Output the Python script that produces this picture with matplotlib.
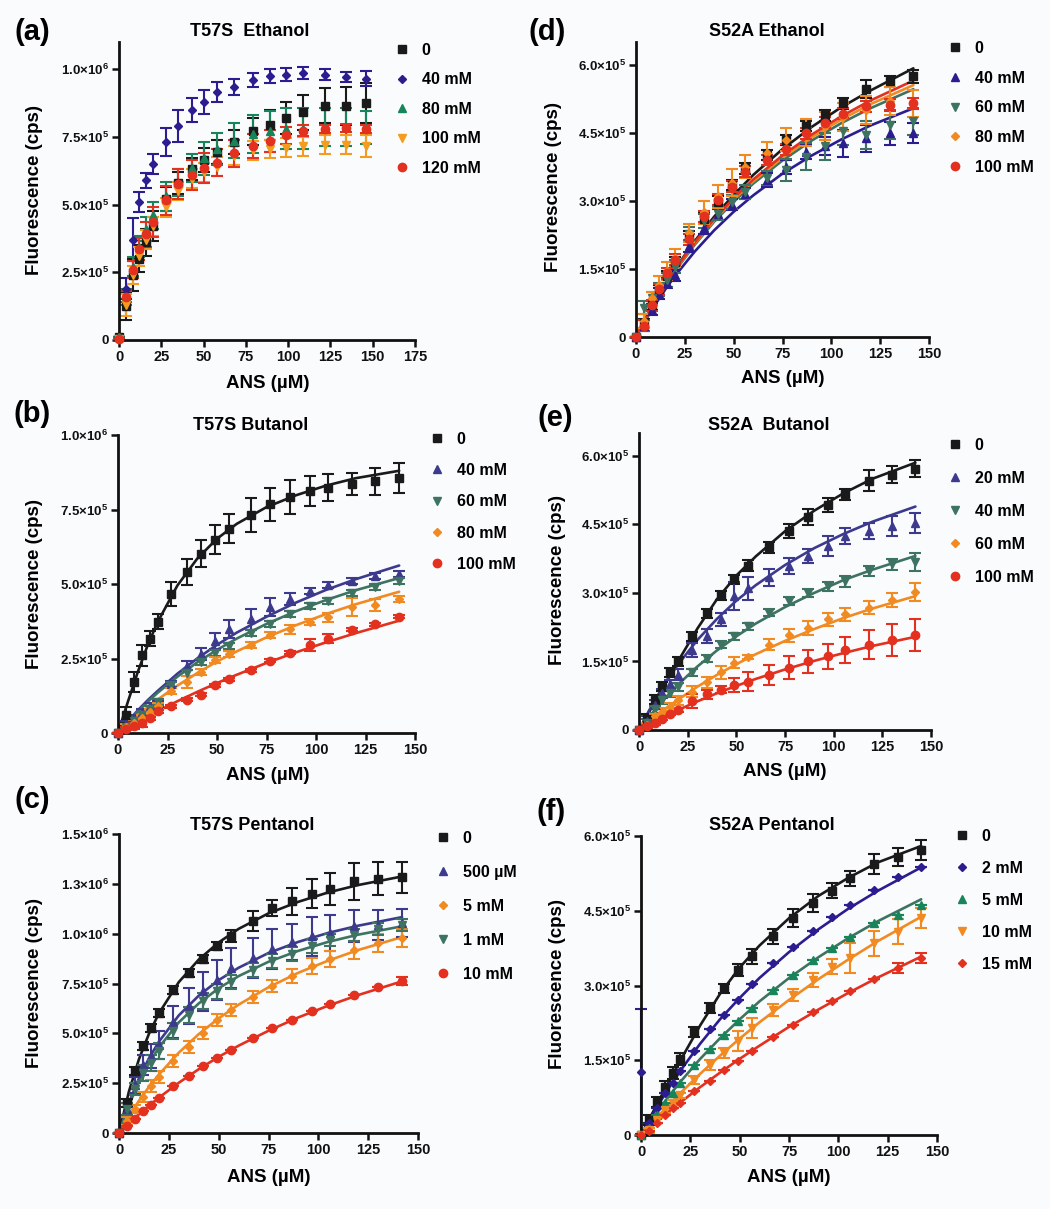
import matplotlib
matplotlib.use('Agg')
import matplotlib.pyplot as plt
from matplotlib.lines import Line2D

plt.rcParams['font.family'] = ['Liberation Sans', 'DejaVu Sans']
plt.rcParams['font.weight'] = 'bold'
plt.rcParams['mathtext.fontset'] = 'custom'
plt.rcParams['mathtext.rm'] = 'Liberation Sans:bold'
plt.rcParams['mathtext.bf'] = 'Liberation Sans:bold'
plt.rcParams['mathtext.it'] = 'Liberation Sans:bold'
plt.rcParams['mathtext.default'] = 'bf'

# ---------------- data (fluorescence in units of 1e5 cps) ----------------
x_a = [0, 4, 8, 12, 16, 20, 28, 35, 43, 50, 58, 68, 79, 89, 99, 109, 122, 134, 146]
x_s = [0, 4, 8, 12, 16, 20, 27, 35, 42, 49, 56, 67, 77, 87, 97, 106, 118, 130, 142]
fit_x = [0, 5, 10, 15, 20, 30, 40, 50, 60, 75, 90, 105, 120, 142]

# (a) T57S Ethanol
a_0 = [0.1, 1.25, 2.4, 3.0, 3.6, 4.2, 5.2, 5.8, 6.3, 6.65, 6.95, 7.3, 7.7, 7.95, 8.2, 8.4, 8.65, 8.65, 8.75]
a_0_e = [0, 0.5, 0.6, 0.5, 0.5, 0.55, 0.45, 0.4, 0.4, 0.45, 0.45, 0.45, 0.5, 0.55, 0.6, 0.65, 0.65, 0.7, 0.75]
a_40 = [0.1, 1.9, 3.7, 5.1, 5.9, 6.5, 7.3, 7.9, 8.5, 8.8, 9.15, 9.35, 9.6, 9.75, 9.8, 9.85, 9.8, 9.72, 9.65]
a_40_e = [0, 0.4, 0.8, 0.38, 0.28, 0.37, 0.52, 0.58, 0.44, 0.44, 0.38, 0.3, 0.25, 0.27, 0.25, 0.22, 0.22, 0.18, 0.28]
a_80 = [0.1, 1.6, 2.7, 3.45, 4.1, 4.6, 5.3, 5.8, 6.35, 6.7, 7.05, 7.35, 7.6, 7.7, 7.8, 7.8, 7.85, 7.85, 7.85]
a_80_e = [0, 0.3, 0.35, 0.4, 0.45, 0.5, 0.55, 0.5, 0.5, 0.6, 0.6, 0.65, 0.7, 0.75, 0.75, 0.75, 0.7, 0.7, 0.6]
a_100 = [0.05, 1.3, 2.4, 3.1, 3.7, 4.2, 4.9, 5.5, 5.95, 6.2, 6.4, 6.8, 7.0, 7.05, 7.1, 7.15, 7.2, 7.2, 7.15]
a_100_e = [0, 0.4, 0.35, 0.35, 0.35, 0.35, 0.35, 0.35, 0.35, 0.35, 0.35, 0.35, 0.35, 0.35, 0.35, 0.35, 0.35, 0.35, 0.4]
a_120 = [0.05, 1.6, 2.6, 3.35, 3.9, 4.35, 5.15, 5.75, 6.1, 6.35, 6.55, 6.9, 7.15, 7.35, 7.55, 7.72, 7.8, 7.83, 7.8]
a_120_e = [0, 0.2, 0.3, 0.4, 0.45, 0.55, 0.55, 0.55, 0.55, 0.55, 0.5, 0.5, 0.45, 0.4, 0.3, 0.2, 0.15, 0.15, 0.15]

# (b) T57S Butanol
b_0 = [0, 0.62, 1.71, 2.61, 3.17, 3.73, 4.66, 5.4, 6.01, 6.49, 6.86, 7.31, 7.67, 7.92, 8.12, 8.23, 8.37, 8.45, 8.56]
b_0_e = [0, 0.25, 0.35, 0.35, 0.25, 0.25, 0.4, 0.45, 0.45, 0.48, 0.5, 0.56, 0.56, 0.56, 0.49, 0.46, 0.37, 0.45, 0.51]
b_0_fit = [0, 1.05, 2.05, 2.95, 3.72, 4.95, 5.85, 6.52, 7.02, 7.58, 7.98, 8.3, 8.55, 8.8]
b_40 = [0, 0.3, 0.5, 0.7, 0.9, 0.97, 1.63, 2.25, 2.64, 3.09, 3.48, 3.82, 4.22, 4.5, 4.78, 4.97, 5.11, 5.28, 5.34]
b_40_e = [0, 0.1, 0.1, 0.1, 0.1, 0.1, 0.1, 0.15, 0.2, 0.27, 0.3, 0.35, 0.3, 0.2, 0.1, 0.1, 0.1, 0.1, 0.1]
b_40_fit = [0, 0.39, 0.76, 1.1, 1.41, 1.99, 2.5, 2.96, 3.37, 3.9, 4.38, 4.8, 5.16, 5.62]
b_60 = [0, 0.2, 0.4, 0.6, 0.8, 1.05, 1.6, 2.0, 2.38, 2.67, 2.92, 3.37, 3.65, 3.99, 4.25, 4.44, 4.7, 4.91, 5.11]
b_60_e = [0, 0.1, 0.1, 0.1, 0.1, 0.1, 0.1, 0.1, 0.1, 0.1, 0.1, 0.1, 0.1, 0.1, 0.1, 0.1, 0.1, 0.1, 0.1]
b_60_fit = [0, 0.375, 0.72, 1.045, 1.35, 1.89, 2.37, 2.79, 3.17, 3.66, 4.09, 4.46, 4.79, 5.2]
b_80 = [0, 0.2, 0.35, 0.5, 0.7, 0.9, 1.4, 1.7, 2.05, 2.45, 2.64, 2.94, 3.28, 3.48, 3.73, 3.88, 4.22, 4.29, 4.5]
b_80_e = [0, 0.1, 0.1, 0.1, 0.1, 0.1, 0.1, 0.2, 0.1, 0.1, 0.1, 0.1, 0.1, 0.15, 0.1, 0.15, 0.3, 0.2, 0.1]
b_80_fit = [0, 0.305, 0.59, 0.86, 1.12, 1.59, 2.01, 2.4, 2.74, 3.21, 3.62, 3.99, 4.32, 4.74]
b_100 = [0, 0.15, 0.25, 0.35, 0.5, 0.73, 0.9, 1.12, 1.29, 1.6, 1.8, 2.11, 2.42, 2.7, 2.94, 3.17, 3.46, 3.65, 3.9]
b_100_e = [0, 0.05, 0.1, 0.15, 0.05, 0.05, 0.05, 0.05, 0.05, 0.05, 0.05, 0.05, 0.05, 0.05, 0.2, 0.15, 0.05, 0.05, 0.05]
b_100_fit = [0, 0.192, 0.378, 0.559, 0.733, 1.066, 1.38, 1.676, 1.955, 2.35, 2.71, 3.04, 3.35, 3.77]

# (c) T57S Pentanol
c_0 = [0, 1.5, 3.09, 4.35, 5.27, 6.02, 7.16, 8.03, 8.73, 9.36, 9.9, 10.62, 11.29, 11.62, 12.0, 12.24, 12.62, 12.76, 12.82]
c_0_e = [0, 0.2, 0.2, 0.2, 0.2, 0.2, 0.2, 0.2, 0.2, 0.2, 0.3, 0.5, 0.38, 0.67, 0.73, 0.78, 0.92, 0.84, 0.8]
c_0_fit = [0, 2.09, 3.7, 4.97, 6.0, 7.57, 8.7, 9.56, 10.24, 11.02, 11.6, 12.07, 12.44, 12.87]
c_500 = [0, 1.2, 2.4, 3.4, 3.85, 4.4, 5.55, 6.35, 7.1, 7.69, 8.28, 8.78, 9.23, 9.56, 9.86, 10.03, 10.37, 10.45, 10.53]
c_500_e = [0, 0.3, 0.4, 0.5, 0.6, 0.7, 0.8, 0.9, 1.0, 1.0, 1.0, 1.0, 1.0, 0.9, 1.0, 0.9, 0.8, 0.75, 0.7]
c_500_fit = [0, 1.517, 2.74, 3.74, 4.58, 5.9, 6.89, 7.67, 8.29, 9.03, 9.59, 10.04, 10.4, 10.83]
c_5 = [0, 0.6, 1.2, 1.8, 2.34, 2.81, 3.6, 4.31, 5.02, 5.65, 6.15, 6.8, 7.39, 7.89, 8.36, 8.73, 9.16, 9.53, 9.78]
c_5_e = [0, 0.2, 0.2, 0.25, 0.3, 0.3, 0.3, 0.3, 0.3, 0.3, 0.3, 0.3, 0.3, 0.35, 0.4, 0.4, 0.45, 0.45, 0.45]
c_5_fit = [0, 0.85, 1.616, 2.31, 2.93, 4.03, 4.96, 5.75, 6.44, 7.31, 8.04, 8.65, 9.18, 9.83]
c_1 = [0, 1.2, 2.2, 3.0, 3.5, 4.1, 5.1, 5.94, 6.6, 7.1, 7.56, 8.19, 8.61, 9.0, 9.36, 9.66, 9.95, 10.23, 10.45]
c_1_e = [0, 0.3, 0.3, 0.4, 0.4, 0.4, 0.4, 0.4, 0.4, 0.4, 0.35, 0.35, 0.35, 0.35, 0.35, 0.3, 0.3, 0.3, 0.3]
c_1_fit = [0, 1.405, 2.55, 3.49, 4.29, 5.55, 6.5, 7.26, 7.87, 8.59, 9.14, 9.59, 9.95, 10.37]
c_10 = [0, 0.35, 0.7, 1.09, 1.42, 1.76, 2.34, 2.88, 3.38, 3.76, 4.15, 4.77, 5.27, 5.68, 6.1, 6.47, 6.94, 7.32, 7.61]
c_10_e = [0, 0, 0, 0, 0, 0, 0, 0, 0, 0, 0, 0, 0, 0, 0, 0, 0, 0, 0.2]
c_10_fit = [0, 0.482, 0.937, 1.366, 1.772, 2.52, 3.2, 3.82, 4.38, 5.13, 5.8, 6.39, 6.92, 7.61]

# (d) S52A Ethanol
d_0 = [0, 0.3, 0.7, 1.05, 1.35, 1.66, 2.21, 2.61, 2.98, 3.35, 3.72, 4.01, 4.34, 4.65, 4.89, 5.15, 5.46, 5.63, 5.74]
d_0_e = [0, 0.1, 0.1, 0.1, 0.1, 0.1, 0.12, 0.12, 0.12, 0.12, 0.12, 0.12, 0.12, 0.12, 0.12, 0.12, 0.2, 0.12, 0.15]
d_0_fit = [0, 0.416, 0.803, 1.163, 1.5, 2.11, 2.65, 3.13, 3.57, 4.14, 4.63, 5.06, 5.43, 5.92]
d_40 = [0, 0.25, 0.6, 0.95, 1.2, 1.36, 2.0, 2.4, 2.7, 2.91, 3.16, 3.46, 3.75, 4.08, 4.2, 4.27, 4.38, 4.49, 4.5]
d_40_e = [0, 0.12, 0.12, 0.12, 0.12, 0.12, 0.12, 0.12, 0.12, 0.12, 0.12, 0.15, 0.15, 0.15, 0.2, 0.3, 0.3, 0.25, 0.22]
d_40_fit = [0, 0.379, 0.727, 1.049, 1.347, 1.88, 2.35, 2.76, 3.12, 3.6, 4.0, 4.35, 4.66, 5.04]
d_60 = [0, 0.65, 0.85, 1.05, 1.25, 1.55, 2.28, 2.55, 2.72, 2.98, 3.2, 3.5, 3.68, 3.97, 4.2, 4.53, 4.45, 4.67, 4.75]
d_60_e = [0, 0.15, 0.15, 0.15, 0.15, 0.15, 0.15, 0.15, 0.15, 0.15, 0.15, 0.15, 0.25, 0.3, 0.3, 0.3, 0.3, 0.3, 0.3]
d_60_fit = [0, 0.408, 0.784, 1.132, 1.454, 2.03, 2.54, 2.98, 3.38, 3.89, 4.33, 4.71, 5.04, 5.46]
d_80 = [0, 0.35, 0.85, 1.15, 1.45, 1.75, 2.3, 2.75, 3.1, 3.4, 3.75, 4.05, 4.35, 4.5, 4.65, 4.85, 5.0, 5.2, 5.15]
d_80_e = [0, 0.15, 0.15, 0.2, 0.2, 0.2, 0.2, 0.25, 0.25, 0.3, 0.25, 0.25, 0.25, 0.3, 0.3, 0.3, 0.3, 0.3, 0.3]
d_80_fit = [0, 0.41, 0.79, 1.14, 1.47, 2.06, 2.57, 3.03, 3.43, 3.95, 4.4, 4.79, 5.13, 5.55]
d_100 = [0, 0.25, 0.7, 1.05, 1.4, 1.7, 2.15, 2.66, 3.02, 3.31, 3.64, 3.9, 4.14, 4.49, 4.72, 4.92, 5.08, 5.12, 5.15]
d_100_e = [0, 0.12, 0.12, 0.12, 0.12, 0.12, 0.12, 0.12, 0.12, 0.12, 0.12, 0.12, 0.12, 0.12, 0.12, 0.12, 0.12, 0.12, 0.12]
d_100_fit = [0, 0.416, 0.8, 1.156, 1.486, 2.08, 2.6, 3.06, 3.47, 4.0, 4.46, 4.86, 5.21, 5.65]

# (e) S52A Butanol
e_0 = [0, 0.25, 0.66, 0.95, 1.26, 1.5, 2.05, 2.55, 2.95, 3.3, 3.59, 4.0, 4.35, 4.66, 4.93, 5.16, 5.46, 5.59, 5.72]
e_0_e = [0, 0.1, 0.1, 0.1, 0.1, 0.1, 0.1, 0.1, 0.1, 0.1, 0.12, 0.12, 0.15, 0.18, 0.15, 0.12, 0.22, 0.18, 0.18]
e_0_fit = [0, 0.38, 0.76, 1.13, 1.5, 2.22, 2.86, 3.38, 3.8, 4.35, 4.8, 5.18, 5.5, 5.85]
e_20 = [0, 0.2, 0.55, 0.8, 1.0, 1.21, 1.75, 2.05, 2.42, 2.93, 3.1, 3.34, 3.59, 3.81, 4.03, 4.25, 4.36, 4.47, 4.53]
e_20_e = [0, 0.1, 0.1, 0.1, 0.1, 0.12, 0.15, 0.15, 0.15, 0.3, 0.25, 0.18, 0.18, 0.15, 0.22, 0.18, 0.18, 0.22, 0.22]
e_20_fit = [0, 0.412, 0.784, 1.122, 1.43, 1.97, 2.43, 2.83, 3.17, 3.61, 3.98, 4.29, 4.56, 4.89]
e_40 = [0, 0.15, 0.45, 0.65, 0.8, 0.94, 1.26, 1.56, 1.87, 2.05, 2.27, 2.57, 2.82, 3.0, 3.15, 3.26, 3.48, 3.63, 3.67]
e_40_e = [0, 0.08, 0.08, 0.08, 0.08, 0.08, 0.08, 0.08, 0.08, 0.08, 0.08, 0.08, 0.08, 0.08, 0.1, 0.12, 0.12, 0.12, 0.2]
e_40_fit = [0, 0.277, 0.533, 0.77, 0.992, 1.39, 1.74, 2.05, 2.33, 2.69, 3.0, 3.28, 3.51, 3.81]
e_60 = [0, 0.1, 0.3, 0.4, 0.5, 0.65, 0.84, 1.05, 1.26, 1.47, 1.6, 1.87, 2.07, 2.24, 2.42, 2.53, 2.68, 2.84, 3.02]
e_60_e = [0, 0.05, 0.05, 0.08, 0.08, 0.1, 0.12, 0.12, 0.15, 0.12, 0.05, 0.12, 0.15, 0.15, 0.15, 0.15, 0.15, 0.15, 0.2]
e_60_fit = [0, 0.179, 0.349, 0.51, 0.663, 0.947, 1.205, 1.44, 1.66, 1.95, 2.21, 2.45, 2.66, 2.93]
e_100 = [0, 0.08, 0.15, 0.25, 0.35, 0.44, 0.64, 0.78, 0.88, 0.98, 1.06, 1.21, 1.36, 1.5, 1.61, 1.75, 1.87, 1.98, 2.07]
e_100_e = [0, 0.03, 0.03, 0.03, 0.03, 0.05, 0.15, 0.1, 0.08, 0.15, 0.2, 0.22, 0.25, 0.25, 0.28, 0.28, 0.32, 0.35, 0.35]
e_100_fit = [0, 0.116, 0.227, 0.334, 0.435, 0.627, 0.803, 0.966, 1.118, 1.325, 1.513, 1.683, 1.84, 2.04]

# (f) S52A Pentanol
f_0 = [0, 0.3, 0.67, 0.97, 1.25, 1.52, 2.06, 2.54, 2.94, 3.31, 3.59, 3.99, 4.35, 4.65, 4.9, 5.15, 5.44, 5.57, 5.72]
f_0_e = [0, 0.1, 0.1, 0.12, 0.12, 0.12, 0.1, 0.1, 0.1, 0.12, 0.15, 0.15, 0.18, 0.18, 0.15, 0.15, 0.2, 0.18, 0.2]
f_0_fit = [0, 0.38, 0.76, 1.13, 1.5, 2.2, 2.83, 3.36, 3.8, 4.35, 4.8, 5.16, 5.47, 5.8]
f_2 = [1.27, 0.25, 0.55, 0.85, 1.05, 1.29, 1.69, 2.12, 2.41, 2.71, 3.04, 3.45, 3.78, 4.1, 4.37, 4.62, 4.92, 5.18, 5.37]
f_2_e = [1.25, 0, 0, 0, 0, 0, 0, 0, 0, 0, 0, 0, 0, 0, 0, 0, 0, 0, 0]
f_2_fit = [0, 0.354, 0.686, 0.999, 1.293, 1.833, 2.32, 2.75, 3.15, 3.67, 4.13, 4.54, 4.9, 5.37]
f_5 = [0, 0.15, 0.4, 0.65, 0.85, 1.05, 1.4, 1.72, 2.01, 2.29, 2.54, 2.9, 3.21, 3.51, 3.75, 3.98, 4.25, 4.42, 4.62]
f_5_e = [0, 0, 0, 0, 0, 0, 0, 0, 0, 0, 0, 0, 0, 0, 0, 0, 0, 0, 0]
f_5_fit = [0, 0.289, 0.563, 0.822, 1.069, 1.528, 1.94, 2.32, 2.68, 3.15, 3.57, 3.95, 4.29, 4.73]
f_10 = [0, 0.1, 0.3, 0.5, 0.65, 0.8, 1.1, 1.4, 1.65, 1.89, 2.14, 2.51, 2.81, 3.11, 3.38, 3.55, 3.85, 4.08, 4.35]
f_10_e = [0, 0.05, 0.05, 0.05, 0.05, 0.05, 0.08, 0.1, 0.1, 0.2, 0.2, 0.12, 0.12, 0.15, 0.15, 0.3, 0.25, 0.25, 0.2]
f_10_fit = [0, 0.221, 0.435, 0.642, 0.843, 1.228, 1.59, 1.934, 2.26, 2.71, 3.13, 3.52, 3.89, 4.38]
f_15 = [0, 0.08, 0.25, 0.4, 0.55, 0.65, 0.89, 1.09, 1.3, 1.49, 1.69, 1.96, 2.21, 2.46, 2.69, 2.88, 3.13, 3.35, 3.55]
f_15_e = [0, 0, 0, 0, 0, 0, 0, 0, 0, 0, 0, 0, 0, 0, 0, 0, 0, 0.1, 0.1]
f_15_fit = [0, 0.17, 0.337, 0.498, 0.656, 0.961, 1.25, 1.528, 1.79, 2.17, 2.52, 2.85, 3.16, 3.58]

labels_a = ['0', '40 mM', '80 mM', '100 mM', '120 mM']
labels_b = ['0', '40 mM', '60 mM', '80 mM', '100 mM']
labels_c = ['0', '500 µM', '5 mM', '1 mM', '10 mM']
labels_d = ['0', '40 mM', '60 mM', '80 mM', '100 mM']
labels_e = ['0', '20 mM', '40 mM', '60 mM', '100 mM']
labels_f = ['0', '2 mM', '5 mM', '10 mM', '15 mM']

yticks_1e6 = [0, 2.5, 5.0, 7.5, 10.0]
yticklabels_1e6 = ['0', '2.5×10$^{5}$', '5.0×10$^{5}$', '7.5×10$^{5}$', '1.0×10$^{6}$']
yticks_c = [0, 2.5, 5.0, 7.5, 10.0, 12.5, 15.0]
yticklabels_c = ['0', '2.5×10$^{5}$', '5.0×10$^{5}$', '7.5×10$^{5}$', '1.0×10$^{6}$',
                 '1.3×10$^{6}$', '1.5×10$^{6}$']
yticks_6e5 = [0, 1.5, 3.0, 4.5, 6.0]
yticklabels_6e5 = ['0', '1.5×10$^{5}$', '3.0×10$^{5}$', '4.5×10$^{5}$', '6.0×10$^{5}$']
xticks_a = [0, 25, 50, 75, 100, 125, 150, 175]
xticks_s = [0, 25, 50, 75, 100, 125, 150]

# ---------------- styles ----------------
BG = '#f9fbfd'
BLACK = '#1a1a1a'
NAVY = '#2b1d8f'
SLATE = '#3d3a8e'
TEAL = '#3d7360'
GREEN = '#17845a'
ORANGE = '#f28a22'
ORANGE_A = '#f39c1f'
RED = '#e3301f'

MK = {'s': 5.8, 'D': 4.4, '^': 5.8, 'v': 5.8, 'o': 6.0}

W, H = 1050, 1209
fig = plt.figure(figsize=(W / 100, H / 100), dpi=100, facecolor=BG)


def draw_panel(rect, x, series, xlim, xticks, ylim, yticks, ytl, title, title_xy,
               plabel, plabel_xy, xlabel_xy, ylabel_xy, leg):
    left, right, top, bottom = rect
    ax = fig.add_axes([left / W, 1 - bottom / H, (right - left) / W, (bottom - top) / H])
    ax.set_facecolor('none')
    handles = []
    for vals, errs, fit, mcol, lcol, mk, lab in series:
        yv = [v * 1e5 for v in vals]
        ye = [e * 1e5 for e in errs]
        if fit is not None:
            ax.plot(fit_x, [v * 1e5 for v in fit], color=lcol, lw=1.9, zorder=2,
                    solid_capstyle='round')
        ax.errorbar(x, yv, yerr=ye, fmt='none', ecolor=mcol, elinewidth=1.5,
                    capsize=4, capthick=1.5, zorder=2.2, clip_on=False)
        ax.plot(x, yv, ls='none', marker=mk, ms=MK[mk], color=mcol, mec=mcol,
                zorder=4, clip_on=False)
        handles.append(Line2D([], [], ls='none', marker=mk, ms=MK[mk], color=mcol,
                              mec=mcol, label=lab))
    ax.set_xlim(*xlim)
    ax.set_ylim(*ylim)
    ax.set_xticks(xticks)
    ax.set_xticklabels([str(t) for t in xticks], fontsize=10.5, fontweight='bold')
    ax.set_yticks([t * 1e5 for t in yticks])
    ax.set_yticklabels(ytl, fontsize=9.5, fontweight='bold')
    for s in ['top', 'right']:
        ax.spines[s].set_visible(False)
    for s in ['left', 'bottom']:
        ax.spines[s].set_linewidth(2.0)
        ax.spines[s].set_color('#111111')
        ax.spines[s].set_zorder(2.5)
    ax.tick_params(direction='out', length=5, width=1.8, pad=2, colors='#111111')
    fig.text(title_xy[0] / W, 1 - title_xy[1] / H, title, ha='center', va='center',
             fontsize=13, fontweight='bold')
    fig.text(plabel_xy[0] / W, 1 - plabel_xy[1] / H, plabel, ha='center', va='center',
             fontsize=21, fontweight='bold')
    fig.text(xlabel_xy[0] / W, 1 - xlabel_xy[1] / H, 'ANS (µM)', ha='center', va='center',
             fontsize=13.5, fontweight='bold')
    fig.text(ylabel_xy[0] / W, 1 - ylabel_xy[1] / H, 'Fluorescence (cps)', ha='center',
             va='center', rotation=90, fontsize=13.5, fontweight='bold')
    mx, my, spacing = leg
    fs = 11.5
    fpx = fs * 100 / 72
    row = fpx * 1.16
    hl = 0.8
    ax.legend(handles=handles, loc='upper left',
              bbox_to_anchor=((mx - hl * fpx / 2) / W, 1 - (my - row / 2) / H),
              bbox_transform=fig.transFigure, frameon=False, borderpad=0,
              borderaxespad=0, handlelength=hl, handletextpad=0.83,
              labelspacing=(spacing - row) / fpx, prop={'size': fs, 'weight': 'bold'})
    return ax


draw_panel((119, 415, 42, 340), x_a,
           [(a_0, a_0_e, None, BLACK, BLACK, 's', labels_a[0]),
            (a_40, a_40_e, None, NAVY, NAVY, 'D', labels_a[1]),
            (a_80, a_80_e, None, GREEN, GREEN, '^', labels_a[2]),
            (a_100, a_100_e, None, ORANGE_A, ORANGE_A, 'v', labels_a[3]),
            (a_120, a_120_e, None, RED, RED, 'o', labels_a[4])],
           (0, 175), xticks_a, (0, 11.0e5), yticks_1e6, yticklabels_1e6,
           'T57S  Ethanol', (250, 32), '(a)', (32, 32), (268, 383), (35, 190),
           (402, 52, 33))

draw_panel((118, 415, 435, 733), x_s,
           [(b_0, b_0_e, b_0_fit, BLACK, BLACK, 's', labels_b[0]),
            (b_40, b_40_e, b_40_fit, SLATE, SLATE, '^', labels_b[1]),
            (b_60, b_60_e, b_60_fit, TEAL, TEAL, 'v', labels_b[2]),
            (b_80, b_80_e, b_80_fit, ORANGE, ORANGE, 'D', labels_b[3]),
            (b_100, b_100_e, b_100_fit, RED, RED, 'o', labels_b[4])],
           (0, 150), xticks_s, (0, 10.0e5), yticks_1e6, yticklabels_1e6,
           'T57S Butanol', (251, 426), '(b)', (32, 414), (268, 776), (35, 584),
           (437, 441, 34.8))

draw_panel((119, 418, 834, 1133), x_s,
           [(c_0, c_0_e, c_0_fit, BLACK, BLACK, 's', labels_c[0]),
            (c_500, c_500_e, c_500_fit, SLATE, SLATE, '^', labels_c[1]),
            (c_5, c_5_e, c_5_fit, ORANGE, ORANGE, 'D', labels_c[2]),
            (c_1, c_1_e, c_1_fit, TEAL, TEAL, 'v', labels_c[3]),
            (c_10, c_10_e, c_10_fit, RED, RED, 'o', labels_c[4])],
           (0, 150), xticks_s, (0, 15.0e5), yticks_c, yticklabels_c,
           'T57S Pentanol', (252, 825), '(c)', (32, 800), (269, 1177), (35, 983),
           (443, 840, 37.5))

draw_panel((636, 929, 42, 337), x_s,
           [(d_0, d_0_e, d_0_fit, BLACK, BLACK, 's', labels_d[0]),
            (d_40, d_40_e, d_40_fit, NAVY, NAVY, '^', labels_d[1]),
            (d_60, d_60_e, d_60_fit, TEAL, TEAL, 'v', labels_d[2]),
            (d_80, d_80_e, d_80_fit, ORANGE, ORANGE, 'D', labels_d[3]),
            (d_100, d_100_e, d_100_fit, RED, RED, 'o', labels_d[4])],
           (0, 150), xticks_s, (0, 6.5e5), yticks_6e5, yticklabels_6e5,
           'S52A Ethanol', (767, 32), '(d)', (547, 32), (783, 378), (553, 187),
           (955, 50, 33.3))

draw_panel((639, 931, 433, 730), x_s,
           [(e_0, e_0_e, e_0_fit, BLACK, BLACK, 's', labels_e[0]),
            (e_20, e_20_e, e_20_fit, SLATE, SLATE, '^', labels_e[1]),
            (e_40, e_40_e, e_40_fit, TEAL, TEAL, 'v', labels_e[2]),
            (e_60, e_60_e, e_60_fit, ORANGE, ORANGE, 'D', labels_e[3]),
            (e_100, e_100_e, e_100_fit, RED, RED, 'o', labels_e[4])],
           (0, 150), xticks_s, (0, 6.5e5), yticks_6e5, yticklabels_6e5,
           'S52A  Butanol', (769, 425), '(e)', (555, 418), (785, 772), (557, 580),
           (955, 447, 36.5))

draw_panel((641, 937, 836, 1135), x_s,
           [(f_0, f_0_e, f_0_fit, BLACK, BLACK, 's', labels_f[0]),
            (f_2, f_2_e, f_2_fit, NAVY, NAVY, 'D', labels_f[1]),
            (f_5, f_5_e, f_5_fit, GREEN, TEAL, '^', labels_f[2]),
            (f_10, f_10_e, f_10_fit, ORANGE, ORANGE, 'v', labels_f[3]),
            (f_15, f_15_e, f_15_fit, RED, RED, 'D', labels_f[4])],
           (0, 150), xticks_s, (0, 6.0e5), yticks_6e5, yticklabels_6e5,
           'S52A Pentanol', (772, 826), '(f)', (551, 812), (789, 1178), (557, 984),
           (962, 838, 35.5))

fig.savefig('out.png', dpi=100, facecolor=BG)
